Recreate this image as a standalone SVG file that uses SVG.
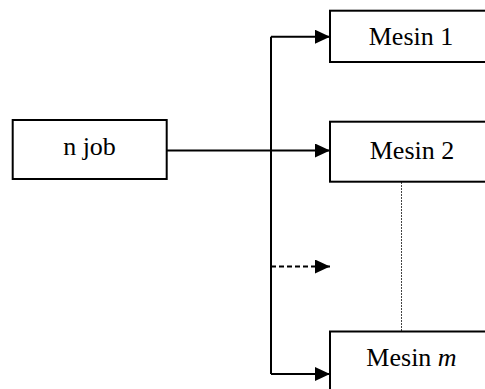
<svg xmlns="http://www.w3.org/2000/svg" width="485" height="389" viewBox="0 0 485 389">
<style>
.box{fill:#fff;stroke:#000;stroke-width:2}
.lbl{font-family:"Liberation Serif","Times New Roman",serif;font-size:26px;fill:#000;text-anchor:middle}
.ln{fill:none;stroke:#000;stroke-width:2}
</style>
<defs>
<marker id="ah" markerWidth="15" markerHeight="14" refX="15" refY="7" orient="auto" markerUnits="userSpaceOnUse">
<path d="M0,0 L15,7 L0,14 Z" fill="#000"/>
</marker>
</defs>
<rect width="485" height="389" fill="#fff"/>
<g id="connectors">
<path class="ln" d="M271,36.7 V374"/>
<path class="ln" d="M271,36.7 H330" marker-end="url(#ah)"/>
<path class="ln" d="M163,150.5 H330" marker-end="url(#ah)"/>
<path class="ln" d="M271,266.5 H330" stroke-dasharray="5,3" marker-end="url(#ah)"/>
<path class="ln" d="M271,374 H330" marker-end="url(#ah)"/>
<path d="M401.5,182 V331" fill="none" stroke="#444" stroke-width="1" stroke-dasharray="2,1"/>
</g>
<g id="njob">
<rect class="box" x="12.7" y="120" width="154" height="59"/>
<text class="lbl" x="89.5" y="155">n job</text>
</g>
<g id="mesin1">
<rect class="box" x="330" y="10.7" width="165" height="51.3"/>
<text class="lbl" x="411" y="45">Mesin 1</text>
</g>
<g id="mesin2">
<rect class="box" x="330" y="121.7" width="165" height="60"/>
<text class="lbl" x="412" y="158.5">Mesin 2</text>
</g>
<g id="mesinm">
<rect class="box" x="330" y="331.5" width="165" height="70"/>
<text class="lbl" x="411.5" y="366">Mesin <tspan font-style="italic">m</tspan></text>
</g>
</svg>
